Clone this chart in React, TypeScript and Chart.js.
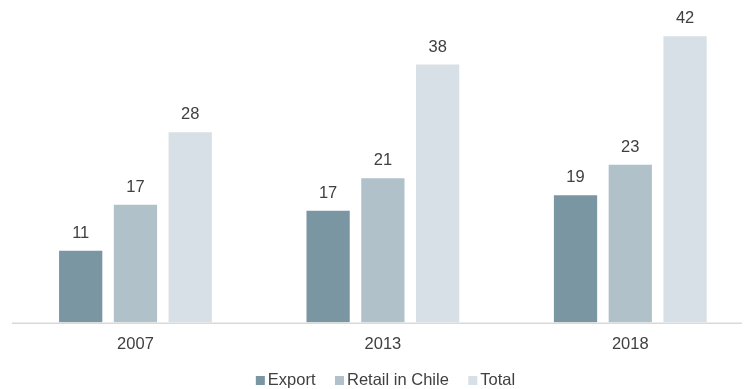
import React, { useEffect, useRef } from "react";
import { Chart, registerables } from "chart.js";

Chart.register(...registerables);

const categories = ["2007", "2013", "2018"];
const exportValues = [10.6, 16.5, 18.8];
const retailValues = [17.4, 21.3, 23.3];
const totalValues = [28.1, 38.1, 42.3];
const seriesNames = ["Export", "Retail in Chile", "Total"];

const FONT = "'Liberation Sans', Arial, sans-serif";

const valueLabels = {
  id: "valueLabels",
  afterDatasetsDraw(chart: any) {
    const ctx = chart.ctx;
    ctx.save();
    ctx.font = `16.5px ${FONT}`;
    ctx.fillStyle = "#404040";
    ctx.textAlign = "center";
    ctx.textBaseline = "alphabetic";
    chart.data.datasets.forEach((ds: any, i: number) => {
      const meta = chart.getDatasetMeta(i);
      meta.data.forEach((bar: any, j: number) => {
        ctx.fillText(String(Math.round(ds.data[j])), bar.x, bar.y - 13);
      });
    });
    ctx.restore();
  },
};

const axisLine = {
  id: "axisLine",
  afterDatasetsDraw(chart: any) {
    const ctx = chart.ctx;
    const b = chart.chartArea.bottom;
    ctx.save();
    ctx.fillStyle = "#d9d9d9";
    ctx.fillRect(12, b, 730, 1.5);
    ctx.restore();
  },
};

const customLegend = {
  id: "customLegend",
  afterDraw(chart: any) {
    const ctx = chart.ctx;
    ctx.save();
    ctx.font = `16.5px ${FONT}`;
    ctx.textBaseline = "alphabetic";
    ctx.textAlign = "left";
    const box = 9;
    const gap = 3;
    const spacing = 19.5;
    const items = chart.data.datasets.map((ds: any) => ({
      label: ds.label,
      color: ds.backgroundColor,
      w: ctx.measureText(ds.label).width,
    }));
    const total =
      items.reduce((s: number, it: any) => s + box + gap + it.w, 0) + spacing * (items.length - 1);
    let x = 377 - total / 2 + 8.5;
    const baseline = 385;
    items.forEach((it: any) => {
      ctx.fillStyle = it.color;
      ctx.fillRect(x, baseline - box, box, box);
      ctx.fillStyle = "#404040";
      ctx.fillText(it.label, x + box + gap, baseline);
      x += box + gap + it.w + spacing;
    });
    ctx.restore();
  },
};

export default function App() {
  const ref = useRef<HTMLCanvasElement>(null);
  useEffect(() => {
    const chart = new Chart(ref.current!, {
      type: "bar",
      data: {
        labels: categories,
        datasets: [
          { label: seriesNames[0], data: exportValues, backgroundColor: "#7a96a3" },
          { label: seriesNames[1], data: retailValues, backgroundColor: "#b0c1ca" },
          { label: seriesNames[2], data: totalValues, backgroundColor: "#d7e0e6" },
        ],
      },
      options: {
        animation: false,
        responsive: false,
        maintainAspectRatio: false,
        layout: { padding: { top: 17.85, left: 11.75, right: -3.25, bottom: 26.5 } },
        datasets: { bar: { categoryPercentage: 0.664, barPercentage: 0.79 } } as any,
        plugins: {
          legend: { display: false },
          tooltip: { enabled: false },
        },
        scales: {
          x: {
            grid: { display: false, drawTicks: false },
            border: { display: false },
            ticks: {
              color: "#404040",
              padding: 12.5,
              font: { size: 16.5, family: FONT },
            },
            afterFit(scale: any) {
              scale.height = 40;
            },
          },
          y: {
            display: false,
            min: 0,
            max: 45,
          },
        },
      },
      plugins: [valueLabels, axisLine, customLegend],
    });
    return () => chart.destroy();
  }, []);
  return (
    <div style={{ position: "fixed", left: 0, top: 0, width: 754, height: 389, background: "#fff" }}>
      <canvas ref={ref} width={754} height={389} />
    </div>
  );
}
